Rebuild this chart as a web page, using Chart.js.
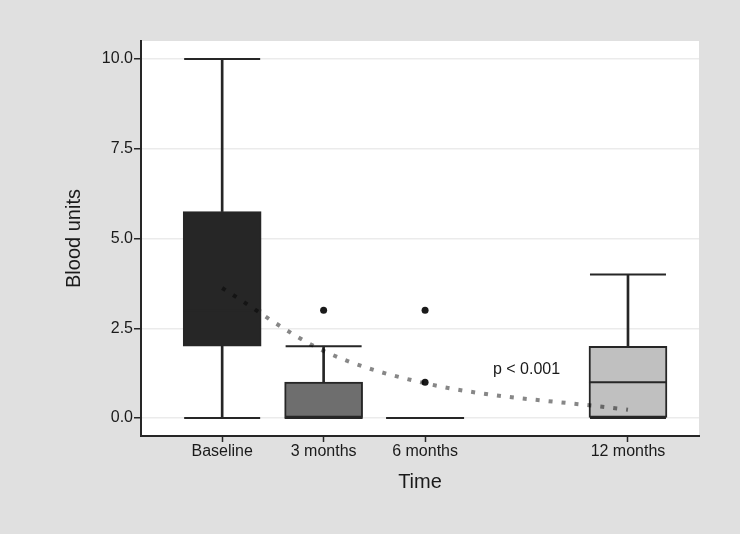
<!DOCTYPE html>
<html>
<head>
<meta charset="utf-8">
<script src="https://cdn.jsdelivr.net/npm/chart.js@4"></script>
<style>
  html, body { margin: 0; padding: 0; background: #e0e0e0; }
  #wrap { width: 740px; height: 534px; }
</style>
</head>
<body>
<div id="wrap"><canvas id="chart"></canvas></div>
<script>
// ================= DATA =================
const categories = ["Baseline", "3 months", "6 months", "12 months"];
const months = [0, 3, 6, 12];
const boxMin = [0, 0, 0, 0];
const boxQ1 = [2, 0, 0, 0];
const boxMedian = [3, 0, 0, 1];
const boxQ3 = [5.75, 1, 0, 2];
const boxMax = [10, 2, 0, 4];
const boxColors = ["#262626", "#6e6e6e", "#9a9a9a", "#c0c0c0"];
const outliersX = [3, 6, 6];
const outliersY = [3, 3, 1];
const trendValues = [3.62, 1.87, 0.97, 0.23];
const yTicks = [0, 2.5, 5, 7.5, 10];
const pLabel = "p < 0.001";
const pLabelAt = [9, 1.36];

const FONT = "'Liberation Sans', Arial, sans-serif";
const INK = "#262626";

// ================= PLUGINS =================
const plotBackground = {
  id: "plotBackground",
  beforeDraw(chart) {
    const { ctx, chartArea: a } = chart;
    ctx.save();
    ctx.fillStyle = "#ffffff";
    ctx.fillRect(a.left, a.top, a.right - a.left, a.bottom - a.top);
    ctx.restore();
  }
};

const pValueText = {
  id: "pValueText",
  afterDatasetsDraw(chart) {
    const { ctx, scales } = chart;
    ctx.save();
    ctx.font = "16px " + FONT;
    ctx.fillStyle = "#1a1a1a";
    ctx.textAlign = "center";
    ctx.textBaseline = "middle";
    ctx.fillText(pLabel, scales.x.getPixelForValue(pLabelAt[0]), scales.y.getPixelForValue(pLabelAt[1]));
    ctx.restore();
  }
};

// ================= DATASETS =================
const whiskerLow = months.map((m, i) => ({ x: m, y: [boxMin[i], boxQ1[i]] }));
const whiskerHigh = months.map((m, i) => ({ x: m, y: [boxQ3[i], boxMax[i]] }));
const boxes = months.map((m, i) => ({ x: m, y: [boxQ1[i], boxQ3[i]] }));
const caps = [];
months.forEach((m, i) => {
  caps.push({ x: m, y: boxMin[i] });
  caps.push({ x: m, y: boxMax[i] });
});
const medians = months.map((m, i) => ({ x: m, y: boxMedian[i] }));
const outliers = outliersX.map((x, i) => ({ x, y: outliersY[i] }));
const trend = months.map((m, i) => ({ x: m, y: trendValues[i] }));

new Chart(document.getElementById("chart"), {
  type: "bar",
  data: {
    datasets: [
      {
        type: "bar", data: whiskerLow, grouped: false, barThickness: 2,
        backgroundColor: INK, order: 6
      },
      {
        type: "bar", data: whiskerHigh, grouped: false, barThickness: 2,
        backgroundColor: INK, order: 6
      },
      {
        type: "scatter", data: caps, pointStyle: "line", pointRadius: 38,
        borderColor: INK, borderWidth: 2, order: 5
      },
      {
        type: "bar", data: boxes, grouped: false, barThickness: 78,
        backgroundColor: boxColors, borderColor: INK, borderWidth: 2,
        borderSkipped: false, order: 4
      },
      {
        type: "scatter", data: medians, pointStyle: "line", pointRadius: 39,
        borderColor: INK, borderWidth: 2, order: 3
      },
      {
        type: "scatter", data: outliers, pointRadius: 3.5,
        backgroundColor: "#1a1a1a", borderColor: "#1a1a1a", borderWidth: 0, order: 2
      },
      {
        type: "line", data: trend, pointRadius: 0, borderWidth: 4,
        borderColor: "rgba(0,0,0,0.47)", borderDash: [4, 9], borderCapStyle: "butt",
        cubicInterpolationMode: "monotone", fill: false, order: 1
      }
    ]
  },
  options: {
    responsive: true,
    maintainAspectRatio: false,
    animation: false,
    layout: { padding: { top: 41, right: 41, left: 0, bottom: 0 } },
    plugins: { legend: { display: false }, tooltip: { enabled: false } },
    scales: {
      x: {
        type: "linear",
        offset: false,
        min: -2.4,
        max: 14.1,
        afterBuildTicks: s => { s.ticks = months.map(v => ({ value: v })); },
        afterFit: s => { s.height = 98; },
        ticks: {
          callback: v => categories[months.indexOf(v)],
          color: "#1a1a1a", font: { family: FONT, size: 16 }, padding: 0,
          maxRotation: 0, autoSkip: false
        },
        grid: { offset: false, drawOnChartArea: false, drawTicks: true, tickLength: 6, tickColor: INK, tickWidth: 1.5 },
        border: { color: INK, width: 2 },
        title: {
          display: true, text: "Time", color: "#1a1a1a",
          font: { family: FONT, size: 20 }, padding: { top: 4, bottom: 40 }
        }
      },
      y: {
        min: -0.5,
        max: 10.5,
        afterBuildTicks: s => { s.ticks = yTicks.map(v => ({ value: v })); },
        afterFit: s => { s.width = 141; },
        ticks: {
          callback: v => v.toFixed(1),
          color: "#1a1a1a", font: { family: FONT, size: 16 }, padding: 1
        },
        grid: { color: "#ebebeb", lineWidth: 1.5, drawTicks: true, tickLength: 7, tickColor: INK, tickWidth: 1.5 },
        border: { color: INK, width: 2 },
        title: {
          display: true, text: "Blood units", color: "#1a1a1a",
          font: { family: FONT, size: 20 }, padding: { top: 62, bottom: 4 }
        }
      }
    }
  },
  plugins: [plotBackground, pValueText]
});
</script>
</body>
</html>
